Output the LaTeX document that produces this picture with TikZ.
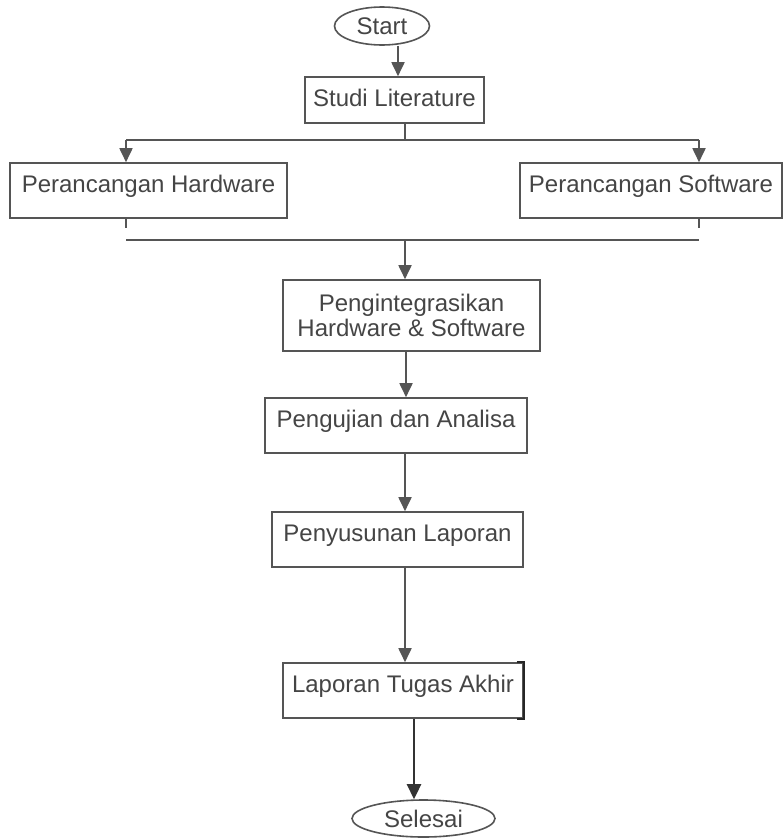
\documentclass[tikz,border=0pt]{standalone}
\usepackage{fontspec}
\setmainfont{Liberation Sans}
\usetikzlibrary{arrows.meta,shapes.geometric,calc}
\definecolor{ln}{HTML}{555555}
\definecolor{tx}{HTML}{454545}
\tikzset{
  every node/.style={font=\fontsize{24pt}{25pt}\selectfont, text=tx},
  procbox/.style={draw=ln, line width=1.6pt, rectangle, inner xsep=0pt, inner ysep=0pt, text height=29pt, text depth=26pt},
  term/.style={draw=ln, line width=1.6pt, ellipse, inner sep=0pt},
  conn/.style={draw=ln, line width=1.8pt},
  arr/.style={conn, -{Triangle[width=13pt,length=14pt]}, shorten >=0pt},
  arrdark/.style={draw=black!80, line width=2.6pt, -{Triangle[width=14pt,length=15pt]}},
}
\begin{document}
\begin{tikzpicture}[x=1pt,y=-1pt]
\useasboundingbox[fill=white] (0,0) rectangle (784,838);

\node[term, minimum width=95pt, minimum height=38pt] (start) at (382,26) {Start};
\node[procbox, minimum width=179pt, text height=29pt, text depth=17pt] (studi) at (394.5,100) {Studi Literature};
\node[procbox, minimum width=277pt] (hw) at (148.5,190.5) {Perancangan Hardware};
\node[procbox, minimum width=262pt] (sw) at (651,190.5) {Perancangan Software};
\node[draw=ln, line width=1.6pt, rectangle, inner sep=0pt, minimum width=257pt, minimum height=71pt, align=center] (integ) at (411.5,315.5) {Pengintegrasikan\\Hardware \& Software};
\node[procbox, minimum width=262pt] (uji) at (396,425.5) {Pengujian dan Analisa};
\node[procbox, minimum width=251pt] (susun) at (397.5,539.5) {Penyusunan Laporan};
\node[procbox, minimum width=240pt] (lta) at (403,690.5) {Laporan Tugas Akhir};
\node[term, minimum width=143pt, minimum height=37pt] (selesai) at (423.5,818.5) {Selesai};

% start -> studi
\draw[arr] ([xshift=16pt]start.south) -- ([xshift=16pt]start.south |- studi.north);

% split
\coordinate (split) at (405,140);
\coordinate (hl) at (126,140);
\coordinate (hr) at (699,140);
\draw[conn] (split |- studi.south) -- (split);
\draw[conn] (hl) -- (hr);
\draw[arr] (hl) -- (hl |- hw.north);
\draw[arr] (hr) -- (hr |- sw.north);

% merge
\coordinate (ml) at (126,240);
\coordinate (mr) at (699,240);
\coordinate (merge) at (405,240);
\draw[conn] (hl |- hw.south) -- ++(0,9);
\draw[conn] (hr |- sw.south) -- ++(0,9);
\draw[conn] (ml) -- (mr);
\draw[arr] (merge) -- (merge |- integ.north);

% main column
\coordinate (axis) at (405,0);
\draw[arr] ([xshift=1pt]axis |- integ.south) -- ([xshift=1pt]axis |- uji.north);
\draw[arr] (axis |- uji.south) -- (axis |- susun.north);
\draw[arr] (axis |- susun.south) -- (axis |- lta.north);

% bracket on Laporan Tugas Akhir
\draw[draw=black!85, line width=2.2pt] ([xshift=-7pt]lta.north east) -- (lta.north east) -- (lta.south east) -- ([xshift=-7pt]lta.south east);

% final
\draw[arrdark] ([xshift=11pt]lta.south) -- ([xshift=11pt]lta.south |- selesai.north);
\end{tikzpicture}
\end{document}
